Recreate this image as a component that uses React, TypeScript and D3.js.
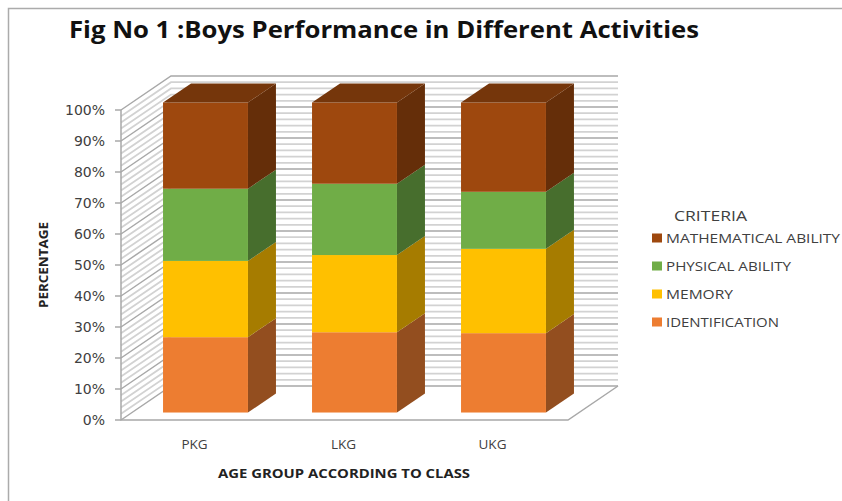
// App.tsx
import React, { useEffect, useRef } from "react"
import * as d3 from "d3"

const classes = ["PKG", "LKG", "UKG"]
const criteria = ["IDENTIFICATION", "MEMORY", "PHYSICAL ABILITY", "MATHEMATICAL ABILITY"]
const identification = [24.3, 25.9, 25.6]
const memory = [24.6, 24.9, 27.2]
const physical = [23.3, 23.0, 18.4]
const mathematical = [27.8, 26.2, 28.8]
const yTicks = [0, 10, 20, 30, 40, 50, 60, 70, 80, 90, 100]
const minorTicks = d3.range(0, 101, 2)

const frontColors = ["#ED7D31", "#FFC000", "#70AD47", "#9E480E"]
const sideColors = ["#934E1F", "#A67C00", "#476E2D", "#652E09"]
const topColor = "#75360B"

export default function App() {
    const ref = useRef<SVGSVGElement>(null)

    useEffect(() => {
        if (!ref.current) return
        const svg = d3.select(ref.current)
        svg.selectAll("*").remove()

        const width = 842
        const height = 501
        const depthX = 50 // oblique offset of the back wall
        const depthY = -34

        const x = d3.scaleBand().domain(classes).range([120, 567]).paddingInner(0.43).paddingOuter(0.215)
        const y = d3.scaleLinear().domain([0, 100]).range([420, 110])
        const project = (px: number, py: number, z: number): [number, number] => [px + z * depthX, py + z * depthY]
        const poly = d3.line()

        svg.append("rect").attr("width", width).attr("height", height).attr("fill", "#fff")
        svg.append("path").attr("d", "M8.5,501V8.5H842").attr("fill", "none").attr("stroke", "#ababab").attr("stroke-width", 1.5)

        // Walls
        const wall = svg.append("g")
        minorTicks.forEach((t) => {
            const major = t % 10 === 0
            const stroke = major ? "#a8a8a8" : "#d2d2d2"
            const sw = major ? 1.5 : 1.8
            wall.append("path")
                .attr("d", poly([project(121, y(t), 0), project(121, y(t), 1), project(568, y(t), 1)]))
                .attr("fill", "none")
                .attr("stroke", stroke)
                .attr("stroke-width", sw)
        })
        wall.append("path")
            .attr("d", poly([[121, y(100)], [121, y(0)], [568, y(0)], project(568, y(0), 1)]))
            .attr("fill", "none")
            .attr("stroke", "#a8a8a8")
            .attr("stroke-width", 1.5)

        // Stacked bars
        const rows = classes.map((c, i) => ({
            c,
            [criteria[0]]: identification[i],
            [criteria[1]]: memory[i],
            [criteria[2]]: physical[i],
            [criteria[3]]: mathematical[i],
        }))
        const series = d3.stack<any>().keys(criteria)(rows)
        const zFront = 0.22
        const zBack = 0.78

        series.forEach((layer, s) => {
            layer.forEach((d) => {
                const left = x(d.data.c)!
                const right = left + x.bandwidth()
                const y0 = y(d[0])
                const y1 = y(d[1])
                svg.append("path")
                    .attr("d", poly([project(right, y0, zFront), project(right, y0, zBack), project(right, y1, zBack), project(right, y1, zFront)]) + "Z")
                    .attr("fill", sideColors[s])
                const [fx, fy] = project(left, y1, zFront)
                const [bx, by] = project(right, y0, zFront)
                svg.append("rect")
                    .attr("x", fx)
                    .attr("y", fy)
                    .attr("width", bx - fx)
                    .attr("height", by - fy)
                    .attr("fill", frontColors[s])
                if (s === series.length - 1) {
                    svg.append("path")
                        .attr("d", poly([project(left, y1, zFront), project(left, y1, zBack), project(right, y1, zBack), project(right, y1, zFront)]) + "Z")
                        .attr("fill", topColor)
                }
            })
        })

        // Y axis labels
        const tickG = svg.append("g")
        yTicks.forEach((t) => {
            tickG.append("path").attr("d", `M115,${y(t)}H121`).attr("stroke", "#a8a8a8").attr("stroke-width", 1.5)
            tickG.append("text")
                .attr("x", 105)
                .attr("y", y(t) + 5)
                .attr("text-anchor", "end")
                .attr("font-family", "'DejaVu Sans'")
                .attr("font-size", 14)
                .attr("fill", "#404040")
                .text(`${t}%`)
        })

        // X axis labels
        classes.forEach((c) => {
            svg.append("text")
                .attr("x", x(c)! + x.bandwidth() / 2)
                .attr("y", 449)
                .attr("text-anchor", "middle")
                .attr("font-family", "'Open Sans'")
                .attr("font-size", 13.5)
                .attr("fill", "#404040")
                .text(c)
        })

        const addText = (txt: string, tx: number, ty: number, size: number, len: number, bold: boolean, fill: string) =>
            svg.append("text")
                .attr("x", tx)
                .attr("y", ty)
                .attr("font-family", "'Open Sans'")
                .attr("font-size", size)
                .attr("font-weight", bold ? 700 : 400)
                .attr("fill", fill)
                .attr("textLength", len)
                .attr("lengthAdjust", "spacingAndGlyphs")
                .text(txt)

        addText("Fig No 1 :Boys Performance in Different Activities", 69, 38, 24, 630, true, "#111")
        addText("AGE GROUP ACCORDING TO CLASS", 218, 478, 12, 252, true, "#222")
        addText("PERCENTAGE", 0, 0, 12, 86, true, "#222").attr("transform", "translate(48,308) rotate(-90)")
        addText("CRITERIA", 674, 221, 14, 73, false, "#404040")

        // Legend, top row is the last series
        const legendRows = [...criteria].reverse()
        const legendWidths = [174, 125, 67, 113]
        legendRows.forEach((name, i) => {
            const rowY = 238 + i * 28
            svg.append("rect")
                .attr("x", 652)
                .attr("y", rowY - 4.5)
                .attr("width", 10)
                .attr("height", 9)
                .attr("fill", frontColors[criteria.indexOf(name)])
            addText(name, 666, rowY + 5, 13, legendWidths[i], false, "#404040")
        })
    }, [])

    return <svg ref={ref} width={842} height={501} style={{ position: "absolute", left: 0, top: 0 }} />
}
